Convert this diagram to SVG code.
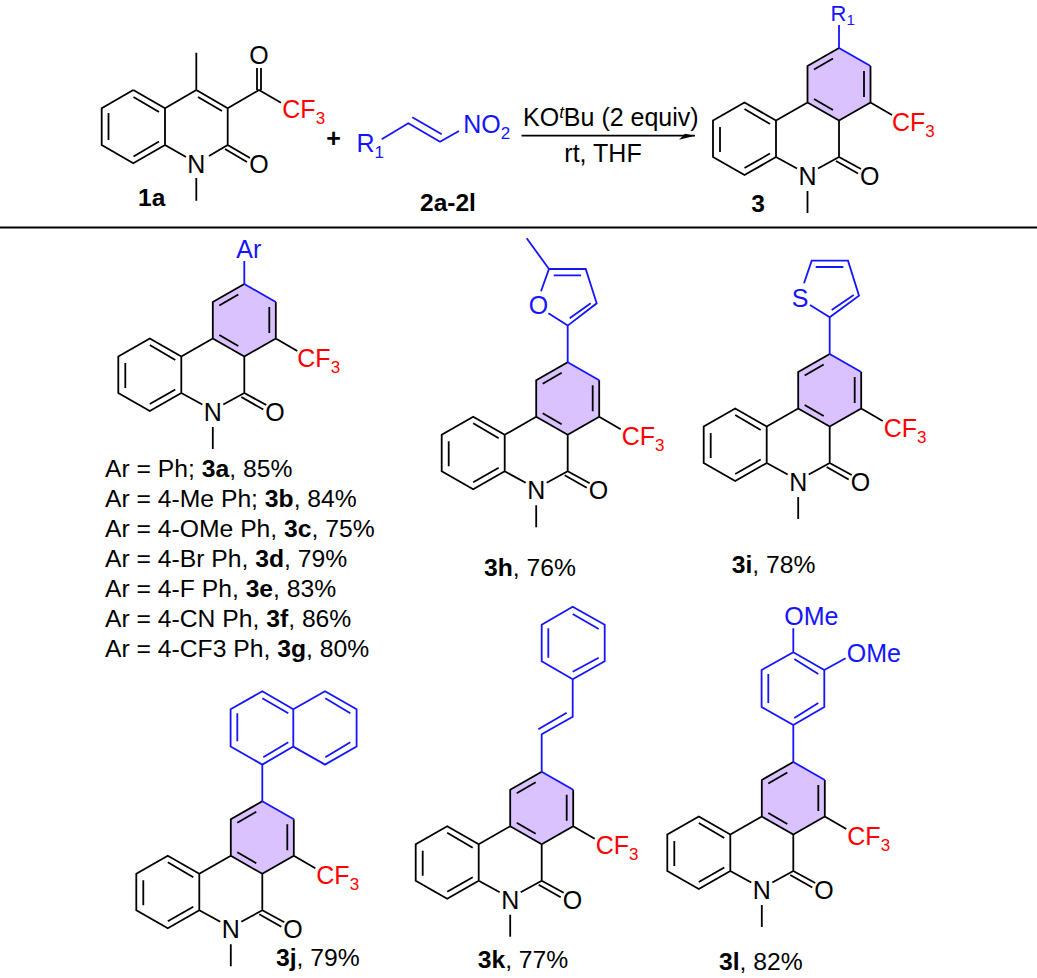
<svg xmlns="http://www.w3.org/2000/svg" xmlns:xlink="http://www.w3.org/1999/xlink" width="1037" height="978" viewBox="0 0 1037 978">
<style>
text{font-family:"Liberation Sans",Arial,sans-serif;font-size:25px;fill:#000}
.k{fill:none;stroke:#000;stroke-width:1.8}
.u{fill:none;stroke:#1414ff;stroke-width:1.8}
.bt{fill:#1414ff}
.rt{fill:#ff0000}
.lab{font-size:24.7px}
.lst{font-size:24.7px}
.bd{font-weight:bold}
.hd{font-size:24.5px}
.s{font-size:17px}
</style>
<defs>
<marker id="ah" markerUnits="userSpaceOnUse" markerWidth="20" markerHeight="10" refX="18" refY="5" orient="auto"><path d="M18,5 L2,9 L6,5 L8,3 Z" fill="#000"/></marker>
<g id="core">
<polygon points="0,0 31.5,18 31.5,54.5 0,72.5 -31.5,54.5 -31.5,18" fill="#d9c2ff"/>
<path class="k" d="M0,0 L-31.5,18 L-31.5,54.5 L0,72.5 L31.5,54.5 L31.5,18 M-25,21.5 L-6,10.5 M25,23 L25,49 M-25,51 L-6,62 M31.5,54.5 L53,67 M0,72.5 L0,109 L-21,120.5 M-31.5,54.5 L-63,72.5 L-94.5,54.5 L-126,72.5 L-126,109 L-94.5,127 L-63,109 L-63,72.5 M-94.5,61 L-69,76 M-119,79 L-119,104 M-94.5,120 L-69,105.5 M-63,109 L-42,120.5 M0,109 L22,121 M-3,113 L19,125.5 M-31.5,143 L-31.5,165"/>
<path class="u" d="M0,0 L31.5,18"/>
</g>
</defs>

<g id="rules" class="connectors">
<path class="k" d="M0,227.5 H1037" stroke-width="2"/>
<path id="arrow" class="k" d="M521.5,135.7 H695" marker-end="url(#ah)"/>
</g>

<g id="cpd-1a">
<path class="k" d="M133.3,90 L101.7,108.3 L101.7,145 L133.3,163.3 L165,145 L165,108.3 L133.3,90 M108.5,113 L108.5,140 M133.5,97 L159,112 M133.5,156.5 L159,141.5 M165,108.3 L196.3,90 L227.7,108.3 L227.7,145 L209,156 M165,145 L186,157 M196.3,90 V52.7 M198,97 L222,111 M227.7,108.3 L259,90 L281,102.7 M257,90 V68 M261,90 V68 M227.7,145 L250,158 M225,149 L247,162 M196.3,178 V200.7"/>
<text x="187.3" y="173">N</text>
<text x="249.3" y="173">O</text>
<text x="282.3" y="118.3" class="rt">CF<tspan dy="6" class="s">3</tspan></text>
<text x="249.3" y="64">O</text>
<text x="138" y="206" class="bd hd">1a</text>
</g>

<text id="plus" x="333.5" y="147" text-anchor="middle" class="bd">+</text>

<g id="cpd-2">
<path class="u" d="M381.7,139.3 L408.3,123.3 L440,141.7 L459,131 M412.3,117.3 L441.7,134.3"/>
<text x="356.5" y="151.7" class="bt">R<tspan dy="6" class="s">1</tspan></text>
<text x="463.3" y="133.3" class="bt">NO<tspan dy="6" class="s">2</tspan></text>
<text x="448" y="210.7" text-anchor="middle" class="bd hd">2a-2l</text>
</g>

<g id="conditions">
<text x="523" y="126">KO<tspan font-style="italic" class="s" dy="-8">t</tspan><tspan dy="8">Bu (2 equiv)</tspan></text>
<text x="603" y="161.7" text-anchor="middle">rt, THF</text>
</g>

<g id="cpd-3" transform="translate(839,48)">
<use href="#core" xlink:href="#core"/>
<path class="u" d="M0,0 V-23"/>
<text x="-40.5" y="137">N</text><text x="21" y="137">O</text>
<text x="53" y="82.5" class="rt">CF<tspan dy="6" class="s">3</tspan></text>
<text x="-8.5" y="-27" class="bt" font-size="22" style="font-size:22px">R<tspan dy="4" style="font-size:15px">1</tspan></text>
<text x="-81" y="164" class="bd hd" text-anchor="middle">3</text>
</g>

<g id="cpd-3a" transform="translate(244.3,284)">
<use href="#core" xlink:href="#core"/>
<path class="u" d="M0,0 V-23"/>
<text x="-40.5" y="137">N</text><text x="21" y="137">O</text>
<text x="53" y="82.5" class="rt">CF<tspan dy="6" class="s">3</tspan></text>
<text x="-8" y="-26.3" class="bt">Ar</text>
</g>

<g id="list">
<text x="105" y="477.3" class="lst">Ar = Ph; <tspan class="bd">3a</tspan>, 85%</text>
<text x="105" y="507.3" class="lst">Ar = 4-Me Ph; <tspan class="bd">3b</tspan>, 84%</text>
<text x="105" y="537.3" class="lst">Ar = 4-OMe Ph, <tspan class="bd">3c</tspan>, 75%</text>
<text x="105" y="566.7" class="lst">Ar = 4-Br Ph, <tspan class="bd">3d</tspan>, 79%</text>
<text x="105" y="596.7" class="lst">Ar = 4-F Ph, <tspan class="bd">3e</tspan>, 83%</text>
<text x="105" y="627.3" class="lst">Ar = 4-CN Ph, <tspan class="bd">3f</tspan>, 86%</text>
<text x="105" y="656.7" class="lst">Ar = 4-CF3 Ph, <tspan class="bd">3g</tspan>, 80%</text>
</g>

<g id="cpd-3h" transform="translate(567.7,362.3)">
<use href="#core" xlink:href="#core"/>
<path class="u" d="M0,0 V-36.7 L-19.3,-49 M0,-36.7 L29,-59 L18,-93.3 L-18.7,-93.3 L-26.7,-71 M-18.7,-93.3 L-41,-124 M2,-44 L23,-59 M-14,-87 H13.3"/>
<text x="-39" y="-48" class="bt">O</text>
<text x="54" y="82.5" class="rt">CF<tspan dy="6" class="s">3</tspan></text>
<text x="-40.5" y="137">N</text><text x="21" y="137">O</text>
</g>
<text id="lab-3h" x="484" y="576" class="lab"><tspan class="bd">3h</tspan>, 76%</text>

<g id="cpd-3i" transform="translate(829.7,354)">
<use href="#core" xlink:href="#core"/>
<path class="u" d="M0,0 V-36.7 L-19.7,-49 M0,-36.7 L29.3,-58.3 L18.3,-93.3 L-18,-93.3 L-25.7,-70.7 M2,-44 L24,-59 M-14,-87 H13.7"/>
<text x="-38" y="-47.5" class="bt">S</text>
<text x="54" y="82.5" class="rt">CF<tspan dy="6" class="s">3</tspan></text>
<text x="-40.5" y="137">N</text><text x="21" y="137">O</text>
</g>
<text id="lab-3i" x="731.7" y="573.3" class="lab"><tspan class="bd">3i</tspan>, 78%</text>

<g id="cpd-3j" transform="translate(262.3,801.3)">
<use href="#core" xlink:href="#core"/>
<path class="u" d="M0,0 V-36.7 L-31.7,-54.7 V-92 L0,-110 L31,-92 V-54.7 L0,-36.7 M31,-92 L62.7,-110 L94.3,-92 V-54.7 L62.7,-36.7 L31,-54.7 M-25,-60 V-88 M0,-103 L26,-88 M1,-44 L26,-59 M63,-103 L88,-88 M63,-44 L88,-59"/>
<text x="54" y="82.5" class="rt">CF<tspan dy="6" class="s">3</tspan></text>
<text x="-40.5" y="137">N</text><text x="21" y="137">O</text>
</g>
<text id="lab-3j" x="276" y="966" class="lab"><tspan class="bd">3j</tspan>, 79%</text>

<g id="cpd-3k" transform="translate(541.7,771.7)">
<use href="#core" xlink:href="#core"/>
<path class="u" d="M0,0 V-37.4 L31,-55 V-92.4 L0,-110.4 V-147 L31,-165 L63,-147 V-110.4 L31,-92.4 M-3.4,-42.4 L25,-59 M6.6,-114 V-143.4 M31,-157.7 L57,-142.7 M31,-100 L57,-114"/>
<text x="54" y="82.5" class="rt">CF<tspan dy="6" class="s">3</tspan></text>
<text x="-40.5" y="137">N</text><text x="21" y="137">O</text>
</g>
<text id="lab-3k" x="477.7" y="968.3" class="lab"><tspan class="bd">3k</tspan>, 77%</text>

<g id="cpd-3l" transform="translate(793.3,762)">
<use href="#core" xlink:href="#core"/>
<path class="u" d="M0,0 V-37 L-31.7,-55 V-92 L0,-109.7 L31,-92 V-55 L0,-37 M-25,-59 V-88 M1,-103 L25,-88 M1,-44 L25,-59 M0,-109.7 V-133.7 M31,-92 L52.3,-103.7"/>
<text x="-9" y="-137" class="bt">OMe</text>
<text x="53.4" y="-100.3" class="bt">OMe</text>
<text x="54" y="82.5" class="rt">CF<tspan dy="6" class="s">3</tspan></text>
<text x="-40.5" y="137">N</text><text x="21" y="137">O</text>
</g>
<text id="lab-3l" x="719" y="970" class="lab"><tspan class="bd">3l</tspan>, 82%</text>
</svg>
